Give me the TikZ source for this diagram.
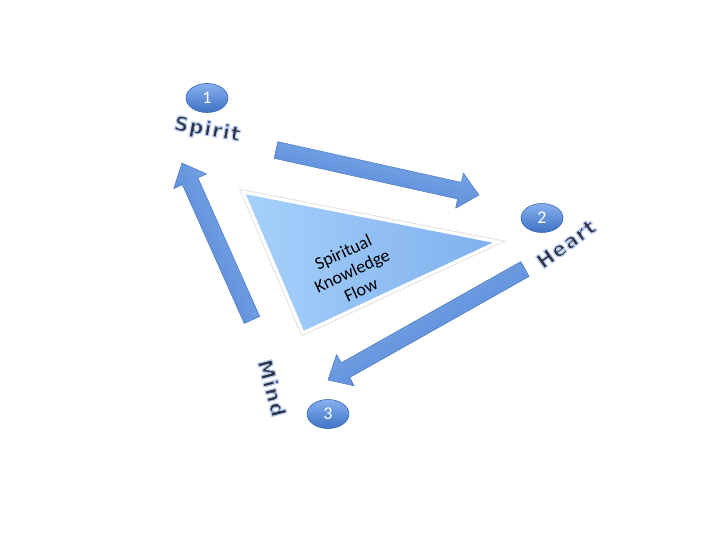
\documentclass[tikz,border=0pt]{standalone}
\usepackage{fontspec}
\setmainfont{Carlito}
\newfontfamily\labelfont[LetterSpace=5]{DejaVu Sans Bold}
\usetikzlibrary{calc,shapes.geometric}
\definecolor{arrowlight}{HTML}{82AFEE}
\definecolor{arrowdark}{HTML}{4F80D0}
\definecolor{arrowline}{HTML}{4A78C2}
\definecolor{trileft}{HTML}{A6D0FB}
\definecolor{triright}{HTML}{7FB0EE}
\definecolor{balltop}{HTML}{86B0EE}
\definecolor{ballbot}{HTML}{3F72C6}
\definecolor{ballline}{HTML}{3A68B5}
\definecolor{labeltext}{HTML}{2E303C}
% text with a light blue halo drawn by the same glyphs (fill + stroke)
\newcommand\glowtext[1]{\special{pdf:code 2 Tr 1.2 w 1 j 0.70 0.78 0.95 RG}#1\special{pdf:code 0 Tr}}
\tikzset{
  barrow/.style={draw=arrowline, line width=0.5pt, top color=arrowlight, bottom color=arrowdark, line join=round},
  ball/.style={ellipse, minimum width=42pt, minimum height=29pt, inner sep=0pt, draw=ballline, line width=0.6pt,
    top color=balltop, bottom color=ballbot, text=white, font=\fontsize{18}{18}\selectfont},
  steplabel/.style={text=labeltext, font=\labelfont\fontsize{20}{20}\selectfont, inner sep=0pt},
}
% block arrow: #1 shading angle, #2 tail, #3 tip
\newcommand\blockarrow[3]{%
  \coordinate (neck) at ($(#3)!20pt!(#2)$);
  \path[barrow, shading angle=#1]
    ($(#2)!8.5pt!90:(#3)$) -- ($(neck)!8.5pt!90:(#3)$) -- ($(neck)!18pt!90:(#3)$) -- (#3)
    -- ($(neck)!18pt!-90:(#3)$) -- ($(neck)!8.5pt!-90:(#3)$) -- ($(#2)!8.5pt!-90:(#3)$) -- cycle;
}
\begin{document}
\begin{tikzpicture}[x=1pt,y=-1pt]
\useasboundingbox (0,0) rectangle (720,540);
\fill[white] (0,0) rectangle (720,540);

% triangle
\coordinate (ta) at (243,192);
\coordinate (tb) at (498,242);
\coordinate (tc) at (303,333);
\draw[line width=5pt, black!12, line join=miter] (ta) -- (tb) -- (tc) -- cycle;
\draw[line width=3.2pt, white, left color=trileft, right color=triright, line join=miter] (ta) -- (tb) -- (tc) -- cycle;
\node[align=center, rotate=25, font=\fontsize{18}{21}\selectfont, text=black] (flow) at (352,271)
  {Spiritual\\Knowledge\\Flow};

% arrows
\coordinate (a1s) at (276,150);
\coordinate (a1e) at (479,195);
\coordinate (a2s) at (525,269);
\coordinate (a2e) at (328,380);
\coordinate (a3s) at (252,320);
\coordinate (a3e) at (182,163);
\blockarrow{-13}{a1s}{a1e}
\blockarrow{30}{a2s}{a2e}
\blockarrow{-65}{a3s}{a3e}

% numbered balls
\node[ball] (n1) at (207,98) {1};
\node[ball] (n2) at (542,218) {2};
\node[ball] (n3) at (328,414) {3};

% labels
\node[steplabel, rotate=-10] (spirit) at (207,130) {\glowtext{Spirit}};
\node[steplabel, rotate=36] (heart) at (566,244) {\glowtext{Heart}};
\node[steplabel, rotate=-75] (mind) at (272,388) {\glowtext{Mind}};
\end{tikzpicture}
\end{document}
